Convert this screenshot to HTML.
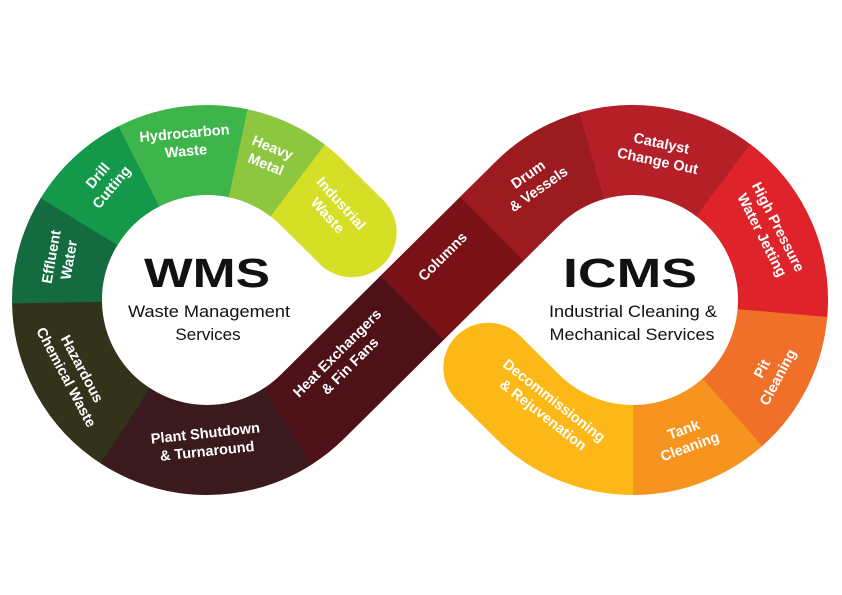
<!DOCTYPE html>
<html><head><meta charset="utf-8"><style>
html,body{margin:0;padding:0;background:#fff;}
svg{display:block;}
.l{font-family:"Liberation Sans",sans-serif;font-size:14.5px;font-weight:bold;fill:#fff;text-anchor:middle;}
.t{font-family:"Liberation Sans",sans-serif;fill:#111;text-anchor:middle;}
</style></head><body>
<svg id="s" width="842" height="595" viewBox="0 0 842 595" xmlns="http://www.w3.org/2000/svg">
<g id="band"></g>
<text class="t" x="207" y="287" font-size="41" font-weight="bold" textLength="126" lengthAdjust="spacingAndGlyphs">WMS</text>
<text class="t" x="209" y="317" font-size="17" textLength="162" lengthAdjust="spacingAndGlyphs">Waste Management</text>
<text class="t" x="208" y="340" font-size="17">Services</text>
<text class="t" x="630" y="287" font-size="41" font-weight="bold" textLength="134" lengthAdjust="spacingAndGlyphs">ICMS</text>
<text class="t" x="633" y="317" font-size="17" textLength="168" lengthAdjust="spacingAndGlyphs">Industrial Cleaning &amp;</text>
<text class="t" x="632" y="340" font-size="17" textLength="165" lengthAdjust="spacingAndGlyphs">Mechanical Services</text>

<g id="labels">
<text class="l" transform="translate(336,208) rotate(48)"><tspan x="0" y="-2">Industrial</tspan><tspan x="0" y="16">Waste</tspan></text>
<text class="l" transform="translate(270,154) rotate(22)"><tspan x="0" y="-2">Heavy</tspan><tspan x="0" y="16">Metal</tspan></text>
<text class="l" transform="translate(185,140) rotate(-5)"><tspan x="0" y="-2">Hydrocarbon</tspan><tspan x="0" y="16">Waste</tspan></text>
<text class="l" transform="translate(103,180) rotate(-50)"><tspan x="0" y="-2">Drill</tspan><tspan x="0" y="16">Cutting</tspan></text>
<text class="l" transform="translate(58,258) rotate(-80)"><tspan x="0" y="-2">Effluent</tspan><tspan x="0" y="16">Water</tspan></text>
<text class="l" transform="translate(76,372) rotate(62)"><tspan x="0" y="-2">Hazardous</tspan><tspan x="0" y="16">Chemical Waste</tspan></text>
<text class="l" transform="translate(206,440) rotate(-6)"><tspan x="0" y="-2">Plant Shutdown</tspan><tspan x="0" y="16">&amp; Turnaround</tspan></text>
<text class="l" transform="translate(342,358) rotate(-45)"><tspan x="0" y="-2">Heat Exchangers</tspan><tspan x="0" y="16">&amp; Fin Fans</tspan></text>
<text class="l" transform="translate(446,260) rotate(-45)"><tspan x="0" y="0">Columns</tspan></text>
<text class="l" transform="translate(532,180) rotate(-35)"><tspan x="0" y="-2">Drum</tspan><tspan x="0" y="16">&amp; Vessels</tspan></text>
<text class="l" transform="translate(660,150) rotate(12)"><tspan x="0" y="-2">Catalyst</tspan><tspan x="0" y="16">Change Out</tspan></text>
<text class="l" transform="translate(772,230) rotate(63)"><tspan x="0" y="-2">High Pressure</tspan><tspan x="0" y="16">Water Jetting</tspan></text>
<text class="l" transform="translate(768,372) rotate(-62)"><tspan x="0" y="-2">Pit</tspan><tspan x="0" y="16">Cleaning</tspan></text>
<text class="l" transform="translate(686,436) rotate(-20)"><tspan x="0" y="-2">Tank</tspan><tspan x="0" y="16">Cleaning</tspan></text>
<text class="l" transform="translate(550,406) rotate(38)"><tspan x="0" y="-2">Decommissioning</tspan><tspan x="0" y="16">&amp; Rejuvenation</tspan></text>
</g>
</svg>
<script>
(function(){
var NS="http://www.w3.org/2000/svg",g=document.getElementById("band");
var L=[207,300],R=[633,300],r=150,W=90,D=Math.PI/180;
function P(c,a){return [c[0]+r*Math.cos(a*D),c[1]-r*Math.sin(a*D)];}
function f(p){return p[0].toFixed(2)+" "+p[1].toFixed(2);}
function arc(c,a1,a2){var p=P(c,a2);var sw=a2>a1?0:1;var lg=Math.abs(a2-a1)>180?1:0;return "A"+r+" "+r+" 0 "+lg+" "+sw+" "+f(p);}
var M=[420,300],u=[Math.cos(44.76*D),-Math.sin(44.76*D)],v=[Math.cos(44.76*D),Math.sin(44.76*D)];
function on(b,d,t){return [b[0]+d[0]*t,b[1]+d[1]*t];}
var tUR=on(M,u,151.2),tLL=on(M,u,-151.2),tUL=on(M,v,-151.2),tLR=on(M,v,151.2);
var capIW=on(tUL,v,55),capD=on(tLR,v,-55);
var aUL=Math.atan2(L[1]-tUL[1],tUL[0]-L[0])/D;
var aLL=360+Math.atan2(L[1]-tLL[1],tLL[0]-L[0])/D;
var aUR=Math.atan2(R[1]-tUR[1],tUR[0]-R[0])/D;
var aLR=Math.atan2(R[1]-tLR[1],tLR[0]-R[0])/D;
var e=0.4;
var segs=[
["#d5df26","M"+f(capIW)+"L"+f(tUL)+arc(L,aUL,52.8+e)],
["#8dc63f","M"+f(P(L,52.8))+arc(L,52.8,78+e)],
["#3db54a","M"+f(P(L,78))+arc(L,78,117+e)],
["#14984a","M"+f(P(L,117))+arc(L,117,148.5+e)],
["#136b3f","M"+f(P(L,148.5))+arc(L,148.5,181+e)],
["#33331c","M"+f(P(L,181))+arc(L,181,237+e)],
["#3a1a1c","M"+f(P(L,237))+arc(L,237,302.5+e)],
["#4e1118","M"+f(P(L,302.5))+arc(L,302.5,aLL)+"L"+f(on(M,u,-10.5))],
["#7a1116","M"+f(on(M,u,-11))+"L"+f(on(M,u,101.5))],
["#9b1b20","M"+f(on(M,u,101))+"L"+f(tUR)+arc(R,aUR,106-e)],
["#b51f28","M"+f(P(R,106))+arc(R,106,53-e)],
["#df232b","M"+f(P(R,53))+arc(R,53,-5-e)],
["#f0702a","M"+f(P(R,-5))+arc(R,-5,-48.5-e)],
["#f6941f","M"+f(P(R,-48.5))+arc(R,-48.5,-90-e)],
["#fcb817","M"+f(P(R,-90))+arc(R,-90,aLR)+"L"+f(capD)]
];
segs.forEach(function(s){var p=document.createElementNS(NS,"path");p.setAttribute("d",s[1]);p.setAttribute("fill","none");p.setAttribute("stroke",s[0]);p.setAttribute("stroke-width",W);g.appendChild(p);});
[[capIW,"#d5df26"],[capD,"#fcb817"]].forEach(function(c){var k=document.createElementNS(NS,"circle");k.setAttribute("cx",c[0][0]);k.setAttribute("cy",c[0][1]);k.setAttribute("r",W/2);k.setAttribute("fill",c[1]);g.appendChild(k);});
})();
</script>
</body></html>
